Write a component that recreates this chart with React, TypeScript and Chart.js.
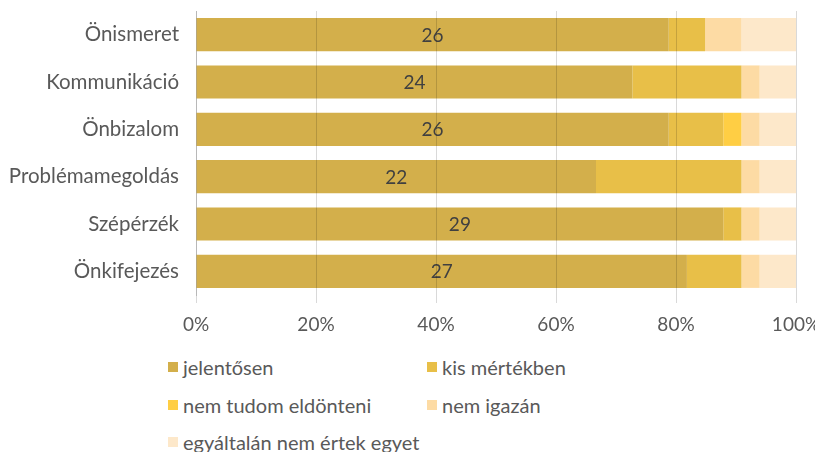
import React, { useEffect, useRef } from "react";
import { Chart, registerables } from "chart.js";

Chart.register(...registerables);

const categories = ["Önismeret", "Kommunikáció", "Önbizalom", "Problémamegoldás", "Szépérzék", "Önkifejezés"];
const seriesNames = ["jelentősen", "kis mértékben", "nem tudom eldönteni", "nem igazán", "egyáltalán nem értek egyet"];
const jelentosen = [26, 24, 26, 22, 29, 27];
const kisMertekben = [2, 6, 3, 8, 1, 3];
const nemTudom = [0, 0, 1, 0, 0, 0];
const nemIgazan = [2, 1, 1, 1, 1, 1];
const egyaltalan = [3, 2, 2, 2, 2, 2];
const tickLabels = ["0%", "20%", "40%", "60%", "80%", "100%"];
const colors = ["#D3AF4B", "#E8BF48", "#FFCE44", "#FDDBA4", "#FDE8CA"];

const FONT = "Lato, 'Noto Sans', sans-serif";
const TEXT = "#595959";

const allSeries = [jelentosen, kisMertekben, nemTudom, nemIgazan, egyaltalan];

export default function App() {
  const ref = useRef<HTMLCanvasElement | null>(null);

  useEffect(() => {
    document.documentElement.style.overflow = "hidden";
    if (!ref.current) return;
    const totals = categories.map((_, i) => allSeries.reduce((s, arr) => s + arr[i], 0));
    const datasets = allSeries.map((arr, k) => ({
      label: seriesNames[k],
      data: arr.map((v, i) => (v / totals[i]) * 100),
      backgroundColor: colors[k],
      borderWidth: 0,
      barPercentage: 0.7,
      categoryPercentage: 1,
    }));

    const labelPlugin = {
      id: "labels",
      afterDatasetsDraw(chart: any) {
        const ctx = chart.ctx;
        const meta = chart.getDatasetMeta(0);
        ctx.save();
        ctx.font = `19px ${FONT}`;
        ctx.fillStyle = "#404040";
        ctx.textAlign = "center";
        ctx.textBaseline = "middle";
        meta.data.forEach((el: any, i: number) => {
          const cx = (el.x + el.base) / 2;
          ctx.fillText(String(jelentosen[i]), cx, el.y + 1);
        });
        ctx.restore();
      },
    };

    const chart = new Chart(ref.current, {
      type: "bar",
      data: { labels: categories, datasets },
      options: {
        indexAxis: "y",
        animation: false,
        responsive: false,
        maintainAspectRatio: false,
        layout: { padding: { top: 3, right: 27, bottom: 0, left: 0 } },
        plugins: { legend: { display: false }, tooltip: { enabled: false } },
        scales: {
          x: {
            stacked: true,
            min: 0,
            max: 100,
            afterFit: (scale: any) => {
              scale.height = 48;
              scale.paddingLeft = 0;
              scale.paddingRight = 0;
            },
            ticks: {
              stepSize: 20,
              padding: 10,
              color: TEXT,
              font: { family: FONT, size: 19 },
              callback: (_v: any, i: number) => tickLabels[i],
            },
            grid: { color: "rgba(0,0,0,0.15)", tickLength: 8, z: 1 },
            border: { display: false },
          },
          y: {
            stacked: true,
            afterFit: (scale: any) => {
              scale.width = 188;
              scale.paddingTop = 0;
              scale.paddingBottom = 0;
            },
            ticks: {
              padding: 9,
              color: TEXT,
              font: { family: FONT, size: 20.5 },
            },
            grid: { display: false },
            border: { display: true, color: "#D9D9D9" },
          },
        },
      },
      plugins: [labelPlugin],
    });
    return () => chart.destroy();
  }, []);

  const legendPos = [
    { x: 160, y: 359 },
    { x: 419, y: 359 },
    { x: 160, y: 397 },
    { x: 419, y: 397 },
    { x: 160, y: 434 },
  ];

  return (
    <div style={{ position: "relative", width: 807, height: 444 }}>
      <canvas ref={ref} width={815} height={335} style={{ position: "absolute", left: 0, top: 0 }} />
      {seriesNames.map((name, k) => (
        <div
          key={name}
          style={{
            position: "absolute",
            left: legendPos[k].x,
            top: legendPos[k].y - 12,
            height: 24,
            display: "flex",
            alignItems: "center",
            fontFamily: FONT,
            fontSize: 20,
            color: TEXT,
            whiteSpace: "nowrap",
          }}
        >
          <span style={{ display: "inline-block", width: 10, height: 10, background: colors[k], marginRight: 5 }} />
          {name}
        </div>
      ))}
    </div>
  );
}
